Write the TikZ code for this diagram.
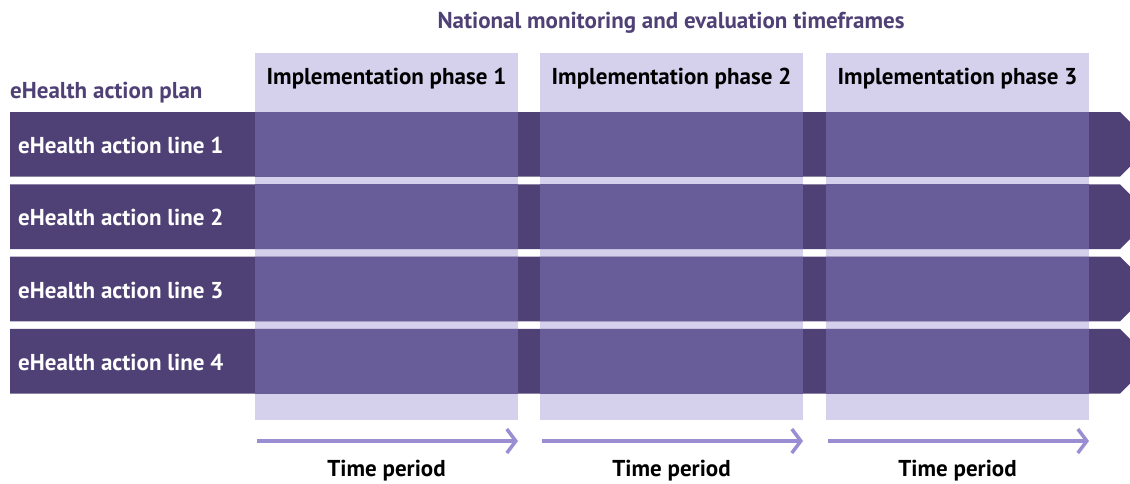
\documentclass[tikz,border=0pt]{standalone}
\usepackage{fontspec}
\setmainfont{PT Sans}
\usepackage{tikz}
\usetikzlibrary{arrows.meta}
\definecolor{planDark}{HTML}{4F4175}
\definecolor{planMid}{HTML}{685C99}
\definecolor{phaseLight}{HTML}{D5D0EB}
\definecolor{periodLav}{HTML}{9A8DD2}

\begin{document}
\begin{tikzpicture}[x=1pt,y=-1pt,
  txt/.style={font=\bfseries\fontsize{23}{26}\selectfont,inner sep=0pt,anchor=base},
  period/.style={draw=periodLav,line width=3.5pt,
    -{Straight Barb[length=9pt,width=24pt]}}]
\def\colw{263}\def\colt{53}\def\colb{420}
\def\barh{64.7}\def\pitch{72.3}
\useasboundingbox (0,0) rectangle (1130,483);
\clip (0,0) rectangle (1130,483);
% Phase columns
\foreach \i/\x in {1/255,2/540,3/826}
  \fill[phaseLight] (\x,\colt) rectangle (\x+\colw,\colb);
% Action lines (arrow bars), darker where a phase covers them
\foreach \j in {1,...,4}{
  \pgfmathsetmacro\yt{112+\pitch*(\j-1)}
  \fill[planDark] (10,\yt) -- (1120,\yt) -- (1120+0.5*\barh,\yt+0.5*\barh)
    -- (1120,\yt+\barh) -- (10,\yt+\barh) -- cycle;
  \foreach \x in {255,540,826}
    \fill[planMid] (\x,\yt) rectangle (\x+\colw,\yt+\barh);
  \node[txt,white,anchor=base west] (line\j) at (18,\yt+41.5)
    {eHealth action line \j};
}
% Headings
\node[txt,planDark] (title) at (671,28) {National monitoring and evaluation timeframes};
\node[txt,planDark,anchor=base west] (plan) at (10,98) {eHealth action plan};
% Phase labels, time period arrows
\foreach \i/\x in {1/255,2/540,3/826}{
  \node[txt] (phase\i) at (\x+0.5*\colw,84) {Implementation phase \i};
  \coordinate (from\i) at (\x+2,441);
  \coordinate (to\i) at (\x+\colw,441);
  \draw[period] (from\i) -- (to\i);
  \node[txt] (time\i) at (\x+0.5*\colw,476) {Time period};
}
\end{tikzpicture}
\end{document}
